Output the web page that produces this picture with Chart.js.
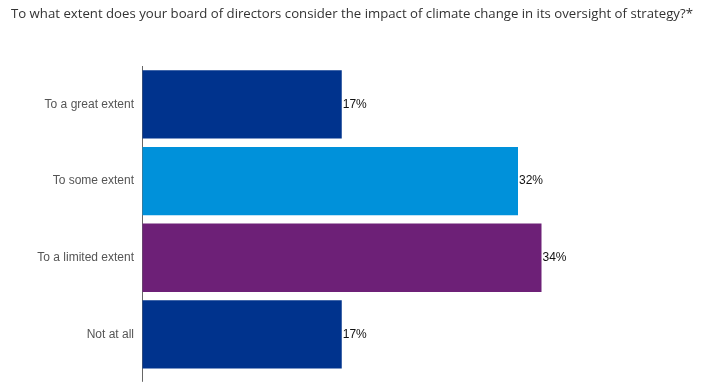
<!DOCTYPE html>
<html>
<head>
<meta charset="utf-8">
<script src="https://cdn.jsdelivr.net/npm/chart.js@4"></script>
<style>
  html, body { margin: 0; padding: 0; background: #fff; }
  #wrap { width: 710px; height: 388px; }
</style>
</head>
<body>
<div id="wrap"><canvas id="boardChart" width="710" height="388"></canvas></div>
<script>
const titleText = 'To what extent does your board of directors consider the impact of climate change in its oversight of strategy?*';
const categories = ['To a great extent', 'To some extent', 'To a limited extent', 'Not at all'];
const shares = [17, 32, 34, 17];
const barColors = ['#00338D', '#0091DA', '#6D2077', '#00338D'];

// value labels at the end of each bar
const valueLabels = {
    id: 'valueLabels',
    afterDatasetsDraw(chart) {
        const ctx = chart.ctx;
        const meta = chart.getDatasetMeta(0);
        ctx.save();
        ctx.font = '12px "Liberation Sans", Arial, sans-serif';
        ctx.fillStyle = '#111';
        ctx.textAlign = 'left';
        ctx.textBaseline = 'middle';
        meta.data.forEach((bar, i) => {
            ctx.fillText(shares[i] + '%', bar.x + 1, bar.y);
        });
        ctx.restore();
    }
};

// title drawn by hand so it is not squeezed to the chart width
const wideTitle = {
    id: 'wideTitle',
    afterDraw(chart) {
        const ctx = chart.ctx;
        ctx.save();
        ctx.font = '13.2px "Open Sans", sans-serif';
        ctx.fillStyle = '#333';
        ctx.textAlign = 'left';
        ctx.textBaseline = 'middle';
        ctx.fillText(titleText, 11, 14);
        ctx.restore();
    }
};

new Chart(document.getElementById('boardChart').getContext('2d'), {
    type: 'bar',
    data: {
        labels: categories,
        datasets: [{
            data: shares,
            backgroundColor: barColors,
            borderWidth: 0,
            categoryPercentage: 1,
            barPercentage: 0.89
        }]
    },
    options: {
        indexAxis: 'y',
        responsive: false,
        animation: false,
        layout: { padding: { left: 11, right: 98, top: 66, bottom: 4 } },
        plugins: {
            legend: { display: false },
            tooltip: { enabled: false },
            title: { display: false }
        },
        scales: {
            x: {
                min: 0,
                max: 40,
                ticks: { display: false },
                border: { display: false },
                grid: {
                    drawOnChartArea: false,
                    tickLength: 9,
                    color: c => (c.tick && c.tick.value === 0) ? '#666' : 'transparent'
                },
                afterFit: s => { s.height = 9; }
            },
            y: {
                ticks: {
                    color: '#555',
                    padding: 8,
                    font: { family: '"Liberation Sans", Arial, sans-serif', size: 12 }
                },
                grid: { display: false, drawTicks: false },
                border: { display: true, color: '#666', width: 1 },
                afterFit: s => { s.width = 131; }
            }
        }
    },
    plugins: [valueLabels, wideTitle]
});
</script>
</body>
</html>
